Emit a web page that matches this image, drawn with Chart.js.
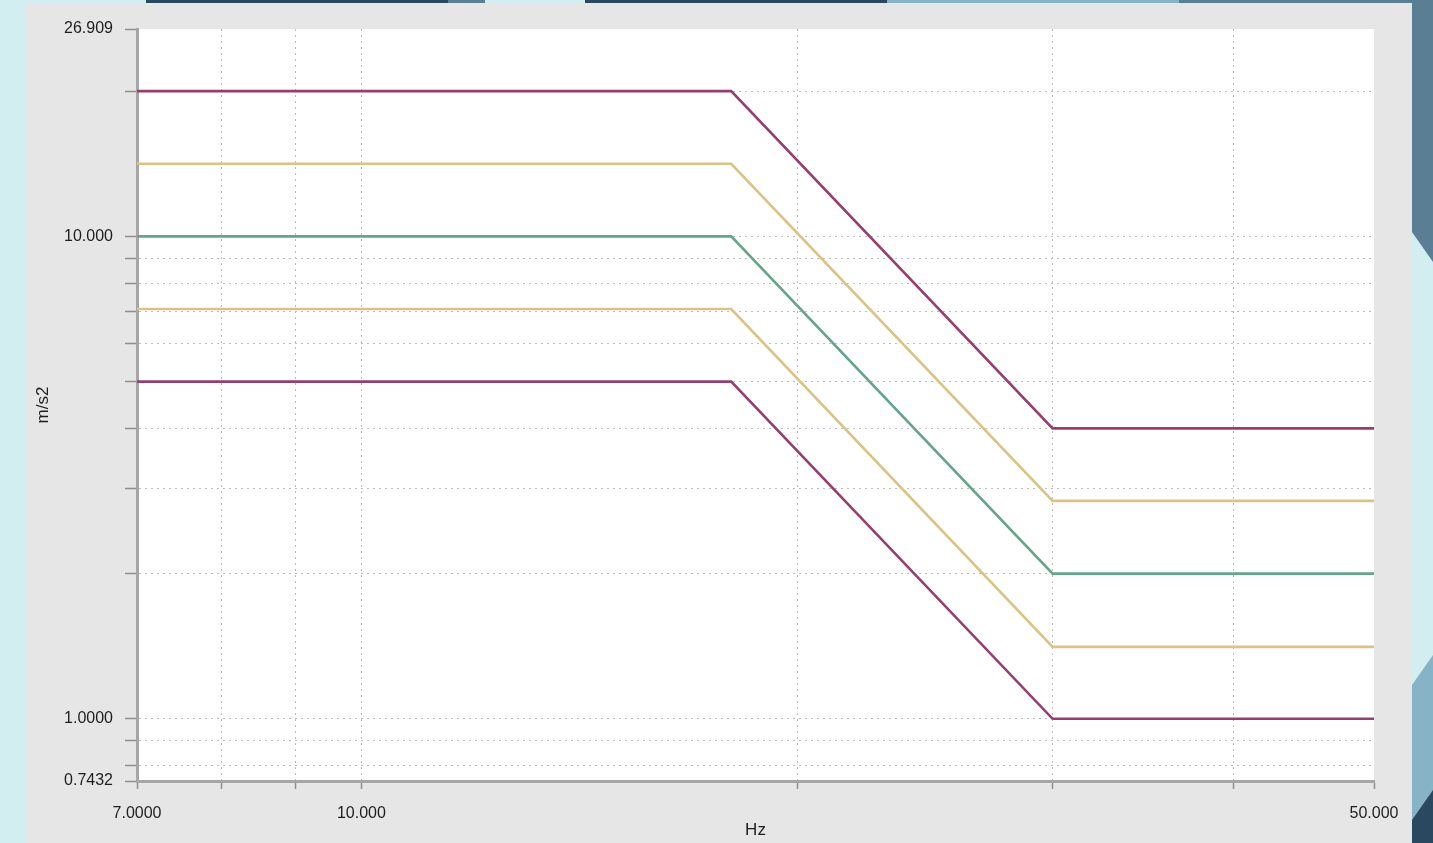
<!DOCTYPE html>
<html>
<head>
<meta charset="utf-8">
<title>Vibration tolerance profile</title>
<script src="https://cdn.jsdelivr.net/npm/chart.js@4.4.1/dist/chart.umd.min.js"></script>
<style>
  html, body { margin: 0; padding: 0; width: 1433px; height: 843px; overflow: hidden; background: #d3eef0; }
  .strip { position: absolute; }
  #panel { position: absolute; left: 25px; top: 3px; width: 1387px; height: 840px; background: #e6e6e6; }
  #chart { position: absolute; left: 0; top: 0; }
</style>
</head>
<body>
<!-- page frame decoration -->
<div class="strip" style="left:146px;top:0;width:302px;height:3px;background:#2b4861"></div>
<div class="strip" style="left:448px;top:0;width:37px;height:3px;background:#5a7e93"></div>
<div class="strip" style="left:585px;top:0;width:302px;height:3px;background:#2b4861"></div>
<div class="strip" style="left:887px;top:0;width:292px;height:3px;background:#87b3c6"></div>
<div class="strip" style="left:1179px;top:0;width:254px;height:3px;background:#5a7e93"></div>
<div class="strip" style="left:1412px;top:0;width:21px;height:843px;background:#5a7e93;clip-path:polygon(0 0,100% 0,100% 262px,0 232px)"></div>
<div class="strip" style="left:1412px;top:0;width:21px;height:843px;background:#87b3c6;clip-path:polygon(100% 655px,100% 843px,0 843px,0 685px)"></div>
<div class="strip" style="left:1412px;top:0;width:21px;height:843px;background:#2b4861;clip-path:polygon(100% 790px,100% 843px,0 843px,0 820px)"></div>
<div id="panel"></div>
<canvas id="chart" width="1433" height="843"></canvas>
<script>
// Frequency breakpoints (Hz) of the tolerance profile
const frequencies = [7, 18, 30, 50];
// Acceleration limits (m/s2) at each breakpoint
const upperAbort = [20, 20, 4, 4];
const upperAlarm = [14.14, 14.14, 2.83, 2.83];
const reference  = [10, 10, 2, 2];
const lowerAlarm = [7.07, 7.07, 1.41, 1.41];
const lowerAbort = [5, 5, 1, 1];

// Axis ticks and the labels printed on them
const yTickValues = [0.7432, 0.8, 0.9, 1, 2, 3, 4, 5, 6, 7, 8, 9, 10, 20, 26.909];
const yTickLabels = { 0.7432: '0.7432', 1: '1.0000', 10: '10.000', 26.909: '26.909' };
const xTickValues = [7, 8, 9, 10, 20, 30, 40, 50];
const xTickLabels = { 7: '7.0000', 10: '10.000', 50: '50.000' };
const xRange = [7, 50];
const yRange = [0.7432, 26.909];

const PURPLE = '#953f70';
const YELLOW = '#dbc385';
const GREEN = '#67a48c';

function points(values) {
  return frequencies.map((f, i) => ({ x: f, y: values[i] }));
}

function series(label, values, color) {
  return {
    label,
    data: points(values),
    borderColor: color,
    backgroundColor: color,
    borderWidth: 2.6,
    pointRadius: 0,
    tension: 0,
    fill: false
  };
}

const plotBackground = {
  id: 'plotBackground',
  beforeDraw(chart) {
    const { ctx, chartArea: a } = chart;
    ctx.save();
    ctx.fillStyle = '#ffffff';
    ctx.fillRect(a.left, a.top, a.right - a.left, a.bottom - a.top);
    ctx.restore();
  }
};

const gridColorFor = (edges) => (ctx) =>
  (ctx.tick && edges.includes(ctx.tick.value)) ? 'rgba(0,0,0,0)' : '#bdbdbd';

const fontFamily = "'Liberation Sans', Arial, sans-serif";
const tickFont = { family: fontFamily, size: 16 };

new Chart(document.getElementById('chart'), {
  type: 'line',
  data: {
    datasets: [
      series('Upper abort', upperAbort, PURPLE),
      series('Upper alarm', upperAlarm, YELLOW),
      series('Reference', reference, GREEN),
      series('Lower alarm', lowerAlarm, YELLOW),
      series('Lower abort', lowerAbort, PURPLE)
    ]
  },
  plugins: [plotBackground],
  options: {
    responsive: false,
    animation: false,
    events: [],
    layout: { padding: { left: 0, right: 59, top: 29, bottom: 0 } },
    plugins: { legend: { display: false }, tooltip: { enabled: false } },
    scales: {
      x: {
        type: 'logarithmic',
        bounds: 'data',
        min: xRange[0],
        max: xRange[1],
        afterBuildTicks: (s) => { s.ticks = xTickValues.map(v => ({ value: v })); },
        afterFit: (s) => { s.height = 62; },
        ticks: {
          autoSkip: false,
          maxRotation: 0,
          padding: 15,
          color: '#1e1e1e',
          font: tickFont,
          callback: (v) => xTickLabels[v] ?? ''
        },
        grid: {
          color: gridColorFor(xRange),
          lineWidth: 1,
          drawTicks: true,
          tickLength: 8,
          tickColor: '#8f8f8f',
          tickWidth: 1.5
        },
        border: { display: true, color: '#a6a6a6', width: 3, dash: [2, 4] },
        title: {
          display: true,
          text: 'Hz',
          color: '#1e1e1e',
          font: { family: fontFamily, size: 17 },
          padding: { top: 0, bottom: 2 }
        }
      },
      y: {
        type: 'logarithmic',
        bounds: 'data',
        min: yRange[0],
        max: yRange[1],
        afterBuildTicks: (s) => { s.ticks = yTickValues.map(v => ({ value: v })); },
        afterFit: (s) => { s.width = 137; },
        ticks: {
          autoSkip: false,
          padding: 12,
          color: '#1e1e1e',
          font: tickFont,
          callback: (v) => yTickLabels[v] ?? ''
        },
        grid: {
          color: gridColorFor(yRange),
          lineWidth: 1,
          drawTicks: true,
          tickLength: 12,
          tickColor: '#8f8f8f',
          tickWidth: 1.5
        },
        border: { display: true, color: '#a6a6a6', width: 3, dash: [2, 4] },
        title: {
          display: true,
          text: 'm/s2',
          color: '#1e1e1e',
          font: { family: fontFamily, size: 17 },
          padding: { top: 33, bottom: 0 }
        }
      }
    }
  }
});
</script>
</body>
</html>
